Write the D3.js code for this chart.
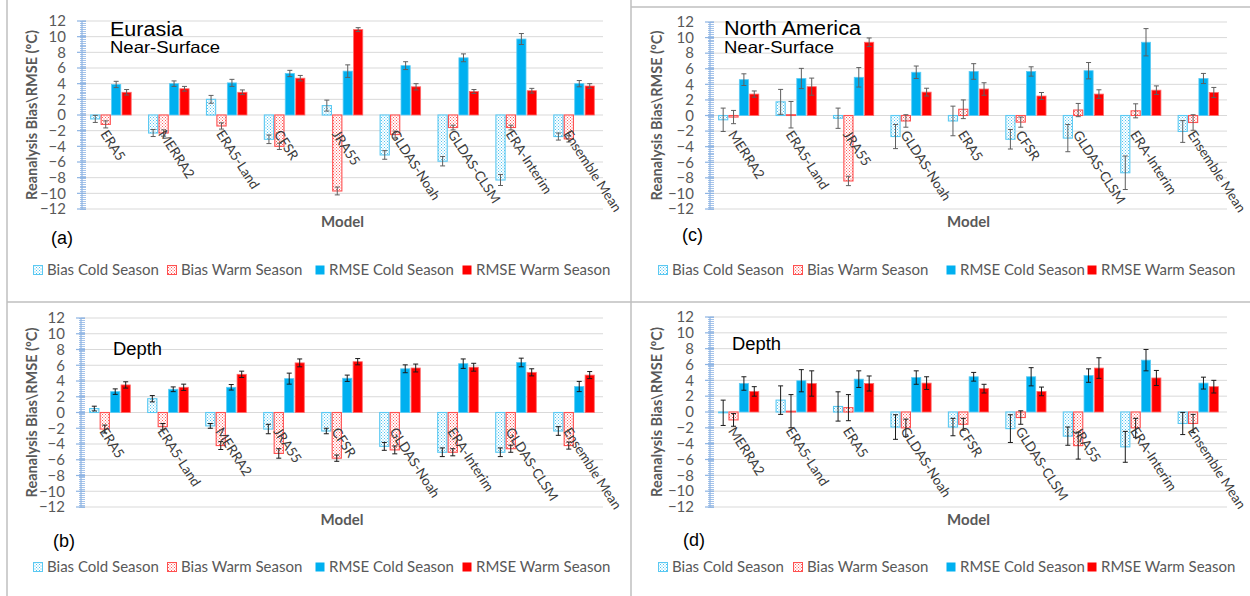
<!DOCTYPE html>
<html><head><meta charset="utf-8">
<script src="https://cdn.jsdelivr.net/npm/d3@7"></script>
<style>body{margin:0;background:#fff}svg{display:block}</style>
</head><body>
<svg id="chart" width="1250" height="596"></svg>
<script>
// ---------------- DATA ----------------
const seriesNames = ["Bias Cold Season","Bias Warm Season","RMSE Cold Season","RMSE Warm Season"];
const yTickValues = [-12,-10,-8,-6,-4,-2,0,2,4,6,8,10,12];

// (a) Eurasia Near-Surface
const catsA = ["ERA5","MERRA2","ERA5-Land","CFSR","JRA55","GLDAS-Noah","GLDAS-CLSM","ERA-Interim","Ensemble Mean"];
const biasColdA = [-0.5,-2.3,2.0,-3.1,1.2,-5.1,-5.9,-8.3,-2.75];
const biasWarmA = [-1.2,-2.3,-1.4,-4.0,-9.7,-2.5,-1.6,-1.6,-3.05];
const rmseColdA = [3.9,4.0,4.1,5.3,5.6,6.3,7.3,9.7,4.0];
const rmseWarmA = [2.9,3.35,2.9,4.7,10.9,3.6,3.0,3.1,3.7];
const biasColdErrA = [0.45,0.45,0.5,0.55,0.7,0.55,0.6,0.7,0.45];
const biasWarmErrA = [0.45,0.4,0.4,0.4,0.5,0.45,0.3,0.3,0.4];
const rmseColdErrA = [0.4,0.35,0.45,0.4,0.8,0.5,0.5,0.7,0.4];
const rmseWarmErrA = [0.35,0.3,0.3,0.35,0.25,0.4,0.25,0.3,0.3];

// (b) Eurasia Depth
const catsB = ["ERA5","ERA5-Land","MERRA2","JRA55","CFSR","GLDAS-Noah","ERA-Interim","GLDAS-CLSM","Ensemble Mean"];
const biasColdB = [0.5,1.75,-1.7,-2.1,-2.35,-4.3,-5.05,-5.05,-2.35];
const biasWarmB = [-2.1,-1.8,-4.2,-5.2,-5.8,-4.75,-5.05,-4.6,-4.2];
const rmseColdB = [2.65,2.95,3.2,4.3,4.35,5.55,6.2,6.35,3.3];
const rmseWarmB = [3.5,3.2,4.85,6.3,6.45,5.65,5.75,5.1,4.75];
const biasColdErrB = [0.3,0.4,0.3,0.6,0.35,0.5,0.55,0.55,0.55];
const biasWarmErrB = [0.5,0.4,0.5,0.6,0.4,0.5,0.45,0.45,0.45];
const rmseColdErrB = [0.35,0.3,0.35,0.7,0.4,0.5,0.6,0.55,0.65];
const rmseWarmErrB = [0.4,0.4,0.4,0.5,0.4,0.5,0.5,0.45,0.45];

// (c) North America Near-Surface
const catsC = ["MERRA2","ERA5-Land","JRA55","GLDAS-Noah","ERA5","CFSR","GLDAS-CLSM","ERA-Interim","Ensemble Mean"];
const biasColdC = [-0.55,1.75,-0.35,-2.7,-0.7,-3.05,-2.9,-7.35,-2.05];
const biasWarmC = [-0.2,0.1,-8.4,-0.7,0.8,-0.85,0.7,0.6,-0.9];
const rmseColdC = [4.6,4.75,4.9,5.55,5.65,5.65,5.75,9.4,4.75];
const rmseWarmC = [2.75,3.7,9.4,3.0,3.4,2.5,2.75,3.25,2.95];
const biasColdErrC = [1.5,1.6,1.3,1.55,1.9,1.25,1.75,2.15,1.4];
const biasWarmErrC = [0.85,1.7,0.6,0.8,1.2,0.65,0.85,0.9,1.0];
const rmseColdErrC = [0.75,1.3,1.25,0.8,1.0,0.6,1.05,1.75,0.65];
const rmseWarmErrC = [0.4,1.1,0.55,0.5,0.8,0.45,0.55,0.55,0.65];

// (d) North America Depth
const catsD = ["MERRA2","ERA5-Land","ERA5","GLDAS-Noah","CFSR","GLDAS-CLSM","JRA55","ERA-Interim","Ensemble Mean"];
const biasColdD = [-0.1,1.5,0.7,-1.9,-1.9,-2.1,-3.05,-4.4,-1.45];
const biasWarmD = [-1.0,0.1,0.55,-2.0,-1.55,-0.7,-4.25,-2.0,-1.45];
const rmseColdD = [3.6,3.95,4.15,4.35,4.45,4.45,4.6,6.55,3.65];
const rmseWarmD = [2.6,3.6,3.6,3.65,2.95,2.6,5.55,4.3,3.2];
const biasColdErrD = [1.6,1.8,1.85,1.55,1.1,1.75,1.15,1.95,1.4];
const biasWarmErrD = [0.8,2.1,1.65,1.1,0.75,0.85,1.7,1.2,1.15];
const rmseColdErrD = [0.85,1.4,1.05,0.85,0.55,1.15,0.85,1.35,0.75];
const rmseWarmErrD = [0.6,1.6,0.95,0.8,0.55,0.55,1.3,0.95,0.8];

// ---------------- DRAW ----------------
const svg = d3.select("#chart");
const defs = svg.append("defs");
function makePattern(id, color){
  const p = defs.append("pattern").attr("id",id).attr("patternUnits","userSpaceOnUse")
    .attr("width",3).attr("height",3);
  p.append("rect").attr("width",3).attr("height",3).attr("fill","#fff");
  p.append("rect").attr("x",0).attr("y",0).attr("width",1).attr("height",1).attr("fill",color);
  p.append("rect").attr("x",1.5).attr("y",1.5).attr("width",1).attr("height",1).attr("fill",color);
}
makePattern("patCold","#4FC3F0");
makePattern("patWarm","#FF5A5A");

const fills = ["url(#patCold)","url(#patWarm)","#00B0F0","#FF0000"];
const strokes = ["#5BC9F2","#FF5050","#5CCBF4","#FF6A6A"];

const panels = [
  {cats:catsA, vals:[biasColdA,biasWarmA,rmseColdA,rmseWarmA], errs:[biasColdErrA,biasWarmErrA,rmseColdErrA,rmseWarmErrA],
   x0:82, x1:603, yT:21, yB:209, errColor:"#5f5f5f", yTitleX:37,
   titles:[{t:"Eurasia",x:110,y:36,s:20,w:73},{t:"Near-Surface",x:110,y:53,s:16.5,w:110}],
   tag:{t:"(a)",x:51,y:244}, modelY:227, legendY:270, legendX:[33,167,315,462]},
  {cats:catsB, vals:[biasColdB,biasWarmB,rmseColdB,rmseWarmB], errs:[biasColdErrB,biasWarmErrB,rmseColdErrB,rmseWarmErrB],
   x0:81, x1:603, yT:318, yB:507, errColor:"#1a1a1a", yTitleX:37,
   titles:[{t:"Depth",x:113,y:355,s:18,w:49}],
   tag:{t:"(b)",x:53,y:547}, modelY:525, legendY:567, legendX:[33,167,315,462]},
  {cats:catsC, vals:[biasColdC,biasWarmC,rmseColdC,rmseWarmC], errs:[biasColdErrC,biasWarmErrC,rmseColdErrC,rmseWarmErrC],
   x0:710, x1:1227, yT:22, yB:209, errColor:"#5f5f5f", yTitleX:662,
   titles:[{t:"North America",x:724,y:35,s:20,w:137},{t:"Near-Surface",x:724,y:53,s:16.5,w:110}],
   tag:{t:"(c)",x:682,y:241}, modelY:227, legendY:270, legendX:[658,793,946,1087]},
  {cats:catsD, vals:[biasColdD,biasWarmD,rmseColdD,rmseWarmD], errs:[biasColdErrD,biasWarmErrD,rmseColdErrD,rmseWarmErrD],
   x0:710, x1:1227, yT:317, yB:507, errColor:"#1a1a1a", yTitleX:662,
   titles:[{t:"Depth",x:732,y:350,s:18,w:49}],
   tag:{t:"(d)",x:683,y:546}, modelY:525, legendY:567, legendX:[658,793,946,1087]}
];

// frame lines
const frame = svg.append("g").attr("stroke","#BFBFBF").attr("stroke-width",1.5);
frame.append("line").attr("x1",7).attr("x2",7).attr("y1",0).attr("y2",596);
frame.append("line").attr("x1",631).attr("x2",631).attr("y1",0).attr("y2",596);
frame.append("line").attr("x1",7).attr("x2",1250).attr("y1",302).attr("y2",302);
frame.append("line").attr("x1",631).attr("x2",1250).attr("y1",7).attr("y2",7);

const txtColor = "#595959";

panels.forEach(P=>{
  const g = svg.append("g");
  const y = d3.scaleLinear().domain([-12,12]).range([P.yB,P.yT]);
  const x = d3.scaleBand().domain(P.cats).range([P.x0,P.x1]).paddingInner(0.3).paddingOuter(0.15);
  const xs = d3.scaleBand().domain(d3.range(4)).range([0,x.bandwidth()]).paddingInner(0.12);

  // gridlines
  g.append("g").selectAll("line").data(yTickValues).join("line")
    .attr("x1",P.x0).attr("x2",P.x1).attr("y1",d=>y(d)).attr("y2",d=>y(d))
    .attr("stroke","#D9D9D9").attr("stroke-width",1);

  // axis labels
  const ax = g.append("g").attr("transform",`translate(${P.x0},0)`)
    .call(d3.axisLeft(y).tickValues(yTickValues).tickSize(0).tickPadding(16));
  ax.select(".domain").remove();
  ax.selectAll("text").attr("fill",txtColor).style("font-family","Lato, sans-serif").style("font-size","15px");

  // axis line + ticks
  const axc = "#8EB4E3";
  g.append("line").attr("x1",P.x0).attr("x2",P.x0).attr("y1",y(12)).attr("y2",y(-12)).attr("stroke",axc).attr("stroke-width",1.2);
  const minor = d3.range(-12,12.001,0.25);
  g.append("g").selectAll("line").data(minor).join("line")
    .attr("x1",P.x0-2).attr("x2",P.x0+4).attr("y1",d=>Math.round(y(d))+0.5).attr("y2",d=>Math.round(y(d))+0.5)
    .attr("stroke",axc).attr("stroke-width",0.8);
  g.append("g").selectAll("line").data(yTickValues).join("line")
    .attr("x1",P.x0-5).attr("x2",P.x0+4).attr("y1",d=>y(d)).attr("y2",d=>y(d))
    .attr("stroke",axc).attr("stroke-width",1.2);

  // bars
  P.vals.forEach((arr,si)=>{
    g.append("g").selectAll("rect").data(arr).join("rect")
      .attr("x",(d,i)=>x(P.cats[i])+xs(si))
      .attr("width",xs.bandwidth())
      .attr("y",d=>y(Math.max(d,0)))
      .attr("height",d=>Math.abs(y(d)-y(0)))
      .attr("fill",fills[si]).attr("stroke",strokes[si]).attr("stroke-width",si<2?1.1:0.8);
  });
  // error bars
  P.vals.forEach((arr,si)=>{
    const eg = g.append("g").attr("stroke",P.errColor).attr("stroke-width",1);
    arr.forEach((v,i)=>{
      const e = P.errs[si][i];
      const cx = x(P.cats[i])+xs(si)+xs.bandwidth()/2;
      eg.append("line").attr("x1",cx).attr("x2",cx).attr("y1",y(v+e)).attr("y2",y(v-e));
      eg.append("line").attr("x1",cx-2.5).attr("x2",cx+2.5).attr("y1",y(v+e)).attr("y2",y(v+e));
      eg.append("line").attr("x1",cx-2.5).attr("x2",cx+2.5).attr("y1",y(v-e)).attr("y2",y(v-e));
    });
  });

  // category labels
  g.append("g").selectAll("text").data(P.cats).join("text")
    .attr("transform",d=>`translate(${x(d)+x.bandwidth()/2-11},${y(0)+19}) rotate(57)`)
    .attr("fill","#3a3a3a").style("font-family","Lato, sans-serif").style("font-size","13.5px")
    .text(d=>d);

  // y title
  g.append("text").attr("transform",`translate(${P.yTitleX},${(P.yT+P.yB)/2}) rotate(-90)`)
    .attr("text-anchor","middle").attr("fill",txtColor).style("font-family","Lato, sans-serif")
    .style("font-weight","bold").style("font-size","14.5px").text("Reanalysis  Bias\\RMSE (ºC)");

  // x title
  g.append("text").attr("x",(P.x0+P.x1)/2).attr("y",P.modelY).attr("text-anchor","middle")
    .attr("fill",txtColor).style("font-family","Lato, sans-serif").style("font-weight","bold").style("font-size","15px").text("Model");

  // titles
  P.titles.forEach(t=>{
    g.append("text").attr("x",t.x).attr("y",t.y).attr("fill","#000")
      .attr("textLength",t.w).attr("lengthAdjust","spacingAndGlyphs")
      .style("font-family","'Liberation Sans', Arial, sans-serif").style("font-size",t.s+"px").text(t.t);
  });
  g.append("text").attr("x",P.tag.x).attr("y",P.tag.y).attr("fill","#000")
    .style("font-family","'Liberation Sans', Arial, sans-serif").style("font-size","18px").text(P.tag.t);

  // legend
  const lg = g.append("g");
  seriesNames.forEach((name,si)=>{
    const lx = P.legendX[si];
    lg.append("rect").attr("x",lx+0.5).attr("y",P.legendY-4.5).attr("width",9).attr("height",9)
      .attr("fill",fills[si]).attr("stroke",si<2?strokes[si]:"none").attr("stroke-width",1);
    lg.append("text").attr("x",lx+14).attr("y",P.legendY).attr("dy","0.35em").attr("fill",txtColor)
      .style("font-family","Lato, sans-serif").style("font-size","15px").text(name);
  });
});
</script>
</body></html>
